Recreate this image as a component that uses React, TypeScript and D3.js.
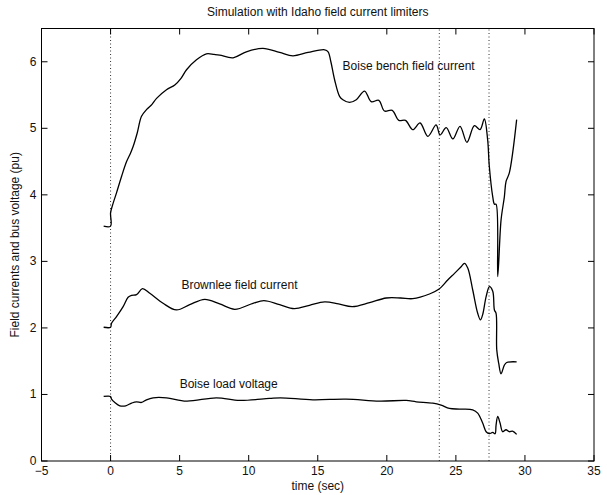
import React from "react";
import * as d3 from "d3";

// Boise bench field current (pu)
const benchTime = [-0.5, 0, 0, 0.15, 0.43, 0.8, 1.16, 1.45, 1.64, 1.93, 2.24, 2.6, 3.0, 3.33, 4.05, 4.65, 5.1, 5.5, 6.22, 6.94, 7.5, 7.9, 8.87, 9.83, 11.03, 12.24, 13.2, 14.3, 15.5, 15.75, 15.95, 16.22, 16.58, 16.82, 17.3, 17.79, 18.39, 18.87, 19.42, 19.83, 20.39, 20.87, 21.35, 21.88, 22.41, 22.97, 23.57, 23.86, 24.3, 24.78, 25.3, 25.8, 26.34, 26.75, 27.06, 27.3, 27.42, 27.67, 27.79, 27.91, 28.03, 28.27, 28.51, 28.63, 28.87, 29.4];
const benchValue = [3.53, 3.53, 3.73, 3.85, 4.03, 4.28, 4.5, 4.63, 4.73, 4.93, 5.18, 5.28, 5.36, 5.45, 5.58, 5.65, 5.75, 5.88, 6.03, 6.12, 6.11, 6.1, 6.06, 6.15, 6.2, 6.14, 6.09, 6.14, 6.18, 6.15, 6.0, 5.73, 5.48, 5.43, 5.39, 5.43, 5.56, 5.4, 5.42, 5.26, 5.27, 5.12, 5.12, 4.98, 5.08, 4.88, 5.05, 4.9, 5.01, 4.84, 5.03, 4.79, 5.04, 4.98, 5.14, 4.83, 4.43, 3.97, 3.86, 3.86, 2.77, 3.62, 3.97, 4.2, 4.33, 5.13];

// Brownlee field current (pu)
const brownleeTime = [-0.5, 0, 0.07, 0.43, 0.91, 1.27, 1.52, 1.88, 2.31, 2.84, 3.8, 4.77, 5.73, 6.82, 7.9, 8.99, 10.31, 11.1, 12.24, 13.3, 14.4, 15.5, 16.5, 17.5, 18.75, 19.96, 21.0, 21.88, 23.09, 23.76, 24.41, 24.9, 25.38, 25.62, 25.86, 26.22, 26.58, 26.78, 26.94, 27.19, 27.43, 27.67, 27.79, 27.91, 27.96, 28.1, 28.27, 28.51, 28.68, 29.4];
const brownleeValue = [2.01, 2.01, 2.07, 2.17, 2.32, 2.46, 2.49, 2.5, 2.59, 2.52, 2.37, 2.27, 2.35, 2.43, 2.36, 2.28, 2.37, 2.41, 2.35, 2.29, 2.34, 2.39, 2.36, 2.32, 2.38, 2.45, 2.45, 2.44, 2.51, 2.58, 2.72, 2.82, 2.92, 2.97, 2.9, 2.57, 2.22, 2.12, 2.2, 2.47, 2.62, 2.55, 2.27, 2.22, 1.67, 1.47, 1.31, 1.44, 1.48, 1.49];

// Boise load bus voltage (pu)
const voltageTime = [-0.5, 0, 0.07, 0.31, 0.67, 1.1, 1.52, 1.88, 2.24, 2.6, 3.08, 4.05, 5.5, 7.66, 9.35, 11.5, 12.3, 14.65, 17.06, 19.47, 21.4, 22.13, 23.33, 23.93, 24.53, 25.26, 26.22, 26.58, 26.94, 27.19, 27.43, 27.67, 27.84, 27.91, 28.03, 28.2, 28.39, 28.63, 28.87, 29.1, 29.4];
const voltageValue = [0.97, 0.97, 0.93, 0.88, 0.83, 0.83, 0.87, 0.89, 0.88, 0.92, 0.95, 0.95, 0.9, 0.95, 0.91, 0.94, 0.95, 0.92, 0.93, 0.9, 0.91, 0.89, 0.87, 0.84, 0.79, 0.78, 0.77, 0.72, 0.57, 0.44, 0.41, 0.43, 0.41, 0.54, 0.67, 0.57, 0.44, 0.47, 0.44, 0.45, 0.4];

// Event markers (sec)
const eventTimes = [0, 23.8, 27.4];

const xTicks = [-5, 0, 5, 10, 15, 20, 25, 30, 35];
const yTicks = [0, 1, 2, 3, 4, 5, 6];

const curveLabels = ["Boise bench field current", "Brownlee field current", "Boise load voltage"];
const labelTime = [16.8, 5.13, 5.0];
const labelValue = [5.94, 2.65, 1.16];

const W = 607;
const H = 495;
const left = 41.5;
const right = 594;
const top = 28.5;
const bottom = 461;
const font = "'Liberation Sans', Arial, Helvetica, sans-serif";
const fs = 12;

export default function App() {
  const x = d3.scaleLinear().domain([-5, 35]).range([left, right]);
  const y = d3.scaleLinear().domain([0, 6.5]).range([bottom, top]);

  const line = d3
    .line<[number, number]>()
    .x((d) => x(d[0]))
    .y((d) => y(d[1]))
    .curve(d3.curveCatmullRom.alpha(0.5));

  const series = [
    d3.zip(benchTime, benchValue) as [number, number][],
    d3.zip(brownleeTime, brownleeValue) as [number, number][],
    d3.zip(voltageTime, voltageValue) as [number, number][],
  ];

  const tick = 6;

  return (
    <svg
      width={W}
      height={H}
      style={{ position: "absolute", left: 0, top: 0, background: "#fff" }}
      fontFamily={font}
    >
      <rect x={0} y={0} width={W} height={H} fill="#fff" />

      {/* event markers */}
      {eventTimes.map((t) => (
        <line
          key={t}
          x1={x(t)}
          x2={x(t)}
          y1={bottom}
          y2={top}
          stroke="#333"
          strokeWidth={1}
          strokeDasharray="1,2.5"
        />
      ))}

      {/* curves */}
      {series.map((s, i) => (
        <path key={i} d={line(s) ?? ""} fill="none" stroke="#000" strokeWidth={1.3} strokeLinejoin="round" />
      ))}

      {/* axes box */}
      <rect x={left} y={top} width={right - left} height={bottom - top} fill="none" stroke="#000" strokeWidth={1} />

      {xTicks.map((t) => (
        <g key={"x" + t}>
          <line x1={x(t)} x2={x(t)} y1={bottom} y2={bottom - tick} stroke="#000" />
          <line x1={x(t)} x2={x(t)} y1={top} y2={top + tick} stroke="#000" />
          <text x={x(t)} y={bottom + 14} fontSize={fs} textAnchor="middle" fill="#111">
            {t < 0 ? "\u2212" + Math.abs(t) : t}
          </text>
        </g>
      ))}

      {yTicks.map((v) => (
        <g key={"y" + v}>
          <line x1={left} x2={left + tick} y1={y(v)} y2={y(v)} stroke="#000" />
          <line x1={right} x2={right - tick} y1={y(v)} y2={y(v)} stroke="#000" />
          <text x={left - 5} y={y(v) + 4} fontSize={fs} textAnchor="end" fill="#111">
            {v}
          </text>
        </g>
      ))}

      {curveLabels.map((s, i) => (
        <text key={s} x={x(labelTime[i])} y={y(labelValue[i]) + 4} fontSize={fs} fill="#111">
          {s}
        </text>
      ))}

      <text x={(left + right) / 2} y={16} fontSize={fs} textAnchor="middle" fill="#111">
        Simulation with Idaho field current limiters
      </text>
      <text x={(left + right) / 2} y={490} fontSize={fs} textAnchor="middle" fill="#111">
        time (sec)
      </text>
      <text
        transform={`translate(19,${(top + bottom) / 2}) rotate(-90)`}
        fontSize={fs}
        textAnchor="middle"
        fill="#111"
      >
        Field currents and bus voltage (pu)
      </text>
    </svg>
  );
}
